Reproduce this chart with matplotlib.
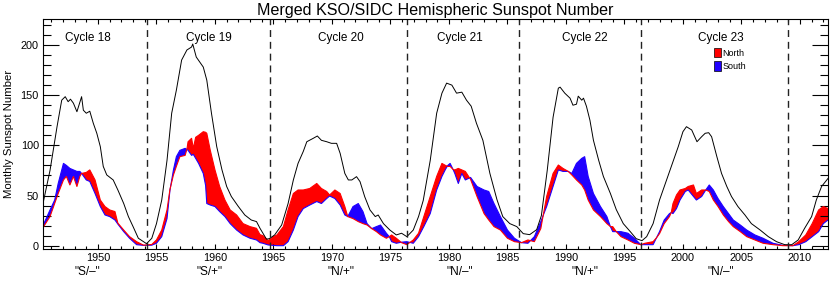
import numpy as np
import matplotlib
matplotlib.use("Agg")
import matplotlib.pyplot as plt
from matplotlib.patches import Patch
from matplotlib.ticker import MultipleLocator

plt.rcParams['font.family'] = ['Liberation Sans', 'DejaVu Sans']

# total (black) smoothed monthly sunspot number, one line per cycle
total_years = [1945.3, 1945.9, 1946.5, 1946.9, 1947.2, 1947.45, 1947.65, 1947.9, 1948.2, 1948.4, 1948.6, 1948.75, 1949.0, 1949.3, 1949.6, 1949.9, 1950.2, 1950.45, 1950.75, 1951.3, 1951.7, 1952.2, 1952.6, 1953.0, 1953.45, 1954.15,
               1954.6, 1955.0, 1955.45, 1955.9, 1956.3, 1956.7, 1957.15, 1957.6, 1958.0, 1958.1, 1958.4, 1959.0, 1959.3, 1959.7, 1960.15, 1960.6, 1961.0, 1961.4, 1962.0, 1962.55, 1963.1, 1963.55, 1963.85, 1964.4, 1964.65,
               1965.1, 1965.7, 1966.25, 1966.7, 1967.1, 1967.55, 1967.85, 1968.4, 1968.75, 1969.1, 1969.55, 1969.95, 1970.4, 1970.7, 1971.1, 1971.4, 1971.7, 1972.1, 1972.4, 1972.8, 1973.25, 1973.7, 1973.95, 1974.4, 1974.95, 1975.5, 1975.95, 1976.4, 1976.95, 1977.4,
               1977.8, 1978.4, 1978.95, 1979.4, 1979.8, 1980.25, 1980.65, 1981.1, 1981.5, 1981.9, 1982.35, 1982.9, 1983.5, 1984.1, 1984.6, 1985.2, 1985.8, 1986.35, 1986.9,
               1987.5, 1987.9, 1988.4, 1988.9, 1989.35, 1989.5, 1989.9, 1990.35, 1990.6, 1990.9, 1991.05, 1991.35, 1991.5, 1991.75, 1992.05, 1992.35, 1992.8, 1993.2, 1993.8, 1994.3, 1994.9, 1995.5, 1996.0, 1996.5,
               1996.9, 1997.45, 1998.0, 1998.6, 1999.15, 1999.6, 2000.0, 2000.3, 2000.75, 2001.2, 2001.6, 2001.9, 2002.2, 2002.45, 2002.9, 2003.3, 2003.75, 2004.15, 2004.7, 2005.3, 2005.85, 2006.6, 2007.3, 2008.0, 2008.7, 2009.3, 2009.85, 2010.4, 2011.0, 2011.4, 2011.85, 2012.4]
total_ssn = [42, 75, 118.6, 145, 148.5, 143.5, 146, 142, 133.5, 141, 148.5, 135, 132, 134, 122, 112, 98.7, 79, 70.5, 65.5, 55.5, 42, 29, 19, 7.4, 2,
             7.4, 22, 45.5, 85, 132, 155, 185, 195, 198, 201, 188, 178, 165, 132, 98.7, 75.5, 59, 49, 39, 30.6, 25.6, 24, 17.3, 6.5, 7,
             10.7, 20.6, 42, 65.5, 82, 94, 103.6, 107, 109.3, 105, 103.6, 102, 102, 92, 72, 65.5, 65.5, 68.8, 63.8, 48.8, 35.6, 29, 30.6, 22, 15.6, 10.7, 12.4, 9, 15.6, 29,
             45, 85, 132, 152, 162, 160, 152, 153, 145, 139, 122, 105, 72, 46, 29, 22, 19, 12, 11,
             16, 30, 75, 128, 157, 158, 152, 147, 140, 141, 149, 145, 147, 139, 125, 105, 85, 69, 52, 36, 22, 14, 7, 5,
             9, 22, 45.5, 65.5, 84, 98.7, 113.6, 118.6, 115.3, 103.6, 108.6, 112, 112.6, 108.6, 88.7, 72, 59, 49, 39, 30.6, 22, 15.6, 9, 4, 1, 1, 5.7, 17.3, 29, 45.5, 59, 67]

# hemispheric smoothed values, one line per cycle
hemi_years = [1945.3, 1945.9, 1946.3, 1946.6, 1947.05, 1947.3, 1947.6, 1947.9, 1948.2, 1948.45, 1948.6, 1949.0, 1949.3, 1949.75, 1950.2, 1950.6, 1951.0, 1951.45, 1951.7, 1952.2, 1952.7, 1953.3, 1953.9,
              1954.6, 1955.0, 1955.45, 1955.9, 1956.15, 1956.45, 1956.7, 1957.0, 1957.45, 1957.6, 1957.7, 1958.0, 1958.15, 1958.35, 1958.6, 1959.0, 1959.2, 1959.3, 1959.6, 1960.0, 1960.4, 1960.85, 1961.3, 1961.85, 1962.4, 1963.0, 1963.55, 1963.85, 1964.1, 1964.55,
              1965.0, 1965.3, 1965.85, 1966.25, 1966.7, 1967.1, 1967.55, 1968.1, 1968.7, 1969.1, 1969.55, 1969.8, 1970.25, 1970.7, 1971.1, 1971.35, 1971.8, 1972.25, 1972.65, 1973.0, 1973.4, 1973.8, 1974.15, 1974.65, 1974.9, 1975.1, 1975.5, 1975.95, 1976.4, 1976.95, 1977.4,
              1977.85, 1978.4, 1978.95, 1979.4, 1979.7, 1979.9, 1980.1, 1980.35, 1980.5, 1980.8, 1981.1, 1981.4, 1981.85, 1982.4, 1983.0, 1983.4, 1983.85, 1984.4, 1985.0, 1985.6, 1986.2, 1986.75,
              1987.3, 1987.85, 1988.35, 1988.9, 1989.35, 1989.75, 1990.2, 1990.5, 1990.9, 1991.35, 1991.6, 1991.9, 1992.35, 1992.95, 1993.5, 1993.8, 1994.0, 1994.3, 1994.7, 1995.3, 1995.85, 1996.4,
              1996.75, 1997.45, 1997.75, 1998.0, 1998.4, 1998.85, 1999.0, 1999.15, 1999.45, 1999.75, 2000.2, 2000.45, 2000.9, 2001.15, 2001.6, 2001.95, 2002.25, 2002.6, 2003.0, 2003.45, 2003.9, 2004.3, 2004.9, 2005.45, 2006.15, 2006.85, 2007.7, 2008.55, 2009.4, 2009.9, 2010.5, 2011.05, 2011.6, 2012.0, 2012.4]
north_ssn = [18, 29, 42, 52, 65.5, 69, 60.5, 69, 59, 69, 72, 73, 75.5, 65.5, 45.5, 39, 35.6, 34, 22.5, 15.6, 9, 4, 0.5,
             1.2, 5.7, 15.6, 35.6, 56, 70.5, 79, 88.7, 90, 96, 103.6, 107, 97, 108, 110, 113.6, 113, 112, 95, 75.5, 59, 45.5, 35.6, 30.6, 22, 19, 17.3, 11, 10, 5,
             9, 10.7, 19, 35.6, 52, 55.5, 55.5, 57, 62, 57, 54, 50.5, 55.5, 52, 39, 29, 27, 24, 22, 20.6, 17, 14, 10.7, 7.4, 9, 10.7, 7.4, 3, 1, 5.7, 12.4,
             29, 49, 69, 82, 80, 79, 79, 76, 75.5, 77, 75.5, 74, 66, 49, 32, 25.6, 19, 15.6, 7.4, 4, 3, 5.7,
             4, 17, 49, 72, 80.4, 77, 74, 70.5, 65.5, 60.5, 55.5, 45.5, 35.6, 29, 22, 19, 19, 14, 9, 5.7, 2.4, 1,
             2.4, 4, 8, 12, 22, 29, 33, 42, 50.5, 55.5, 57, 59, 60.5, 52, 55.5, 55.5, 54, 45.5, 39, 30.6, 24, 19, 14, 9, 5.7, 2.4, 1, 0, 0, 4, 10.7, 22, 35.6, 39, 37]
south_ssn = [20, 35.6, 45.5, 62, 82, 80, 77, 75.5, 74, 74, 72, 65.5, 64, 52, 39, 30.6, 29, 25.6, 21.5, 14, 7.4, 1, 0.3,
             0.5, 2.4, 9, 27, 55, 75.5, 88.7, 95, 97, 96, 95, 90, 91, 87, 82, 72, 60, 42, 40.5, 39, 34, 29, 22, 15.6, 10.7, 7.4, 5.7, 3, 2.4, 0.7,
             0.3, 0, 0, 4, 15.6, 29, 37, 40.5, 44, 42, 47, 49.5, 47, 40.5, 30.6, 29, 39, 42, 34, 22, 17, 19, 20.6, 12.4, 9, 4, 2.4, 3.5, 4, 2.4, 9,
             19, 32, 55.5, 69, 76, 80, 82, 76, 72, 62, 72, 65.5, 68, 59, 55.5, 54, 42, 29, 15.6, 7.4, 3, 2.4,
             9, 24, 39, 59, 75.5, 74, 74, 72, 82, 87, 88.7, 69, 52, 39, 29, 19, 14, 14, 14, 12.4, 7.4, 1,
             1, 1, 8, 14, 25.6, 32, 33, 32, 37, 45.5, 54, 55.5, 49, 45.5, 49, 55.5, 60.5, 55.5, 47, 39, 32, 25.6, 20.6, 15.6, 10.7, 7.4, 2.4, 0.3, 0, 1, 4, 9, 14, 22, 25.6]

cycle_minima = [1954.2, 1964.7, 1976.4, 1986.0, 1996.4, 2009.0]
cycle_names = ['Cycle 18', 'Cycle 19', 'Cycle 20', 'Cycle 21', 'Cycle 22', 'Cycle 23']
cycle_centers = [1949.1, 1959.5, 1970.8, 1980.9, 1991.6, 2003.2]
polarity_labels = ['"S/\u2013"', '"S/+"', '"N/+"', '"N/\u2013"', '"N/+"', '"N/\u2013"']

red = '#ff0000'
blue = '#2000ff'

fig = plt.figure(figsize=(8.30, 2.86), dpi=100)
ax = fig.add_axes([0.0518, 0.1294, 0.9458, 0.8031])

hy = np.array(hemi_years)
n = np.array(north_ssn)
s = np.array(south_ssn)
ax.fill_between(hy, n, s, where=n >= s, interpolate=True, color=red, lw=0)
ax.fill_between(hy, n, s, where=n <= s, interpolate=True, color=blue, lw=0)
ax.plot(hy, s, color=blue, lw=0.8)
ax.plot(hy, n, color=red, lw=0.8)
ax.plot(total_years, total_ssn, color='black', lw=0.7)

for xm in cycle_minima:
    ax.axvline(xm, color='#222222', lw=1.0, dashes=(5, 3.5))

for name, xc, pol in zip(cycle_names, cycle_centers, polarity_labels):
    ax.text(xc, 0.919, name, transform=ax.get_xaxis_transform(), ha='center', va='center', fontsize=8.5)
    ax.text(xc, -0.10, pol, transform=ax.get_xaxis_transform(), ha='center', va='center', fontsize=8.5)

ax.set_xlim(1945.3, 2012.4)
ax.set_ylim(-3.3, 225.6)
ax.xaxis.set_major_locator(MultipleLocator(5))
ax.xaxis.set_minor_locator(MultipleLocator(1))
ax.yaxis.set_major_locator(MultipleLocator(50))
ax.yaxis.set_minor_locator(MultipleLocator(10))
ax.tick_params(axis='both', which='both', direction='in', top=True, right=True, width=0.8, labelsize=7.8)
ax.tick_params(axis='x', which='major', length=3.6, pad=3)
ax.tick_params(axis='x', which='minor', length=2)
ax.tick_params(axis='y', which='major', length=11.5, pad=3)
ax.tick_params(axis='y', which='minor', length=5.8)
for sp in ax.spines.values():
    sp.set_linewidth(0.8)

ax.set_ylabel('Monthly Sunspot Number', fontsize=8.2, labelpad=5)
ax.set_title('Merged KSO/SIDC Hemispheric Sunspot Number', fontsize=11.6, pad=3)

handles = [Patch(facecolor=red, edgecolor='black', lw=0.5, label='North'),
           Patch(facecolor=blue, edgecolor='black', lw=0.5, label='South')]
ax.legend(handles=handles, loc='upper left', bbox_to_anchor=(0.855, 0.875), frameon=False,
          fontsize=6.5, handlelength=0.7, handleheight=1.2, handletextpad=0.2,
          labelspacing=0.4, borderpad=0, borderaxespad=0)

fig.savefig('out.png', dpi=100)
